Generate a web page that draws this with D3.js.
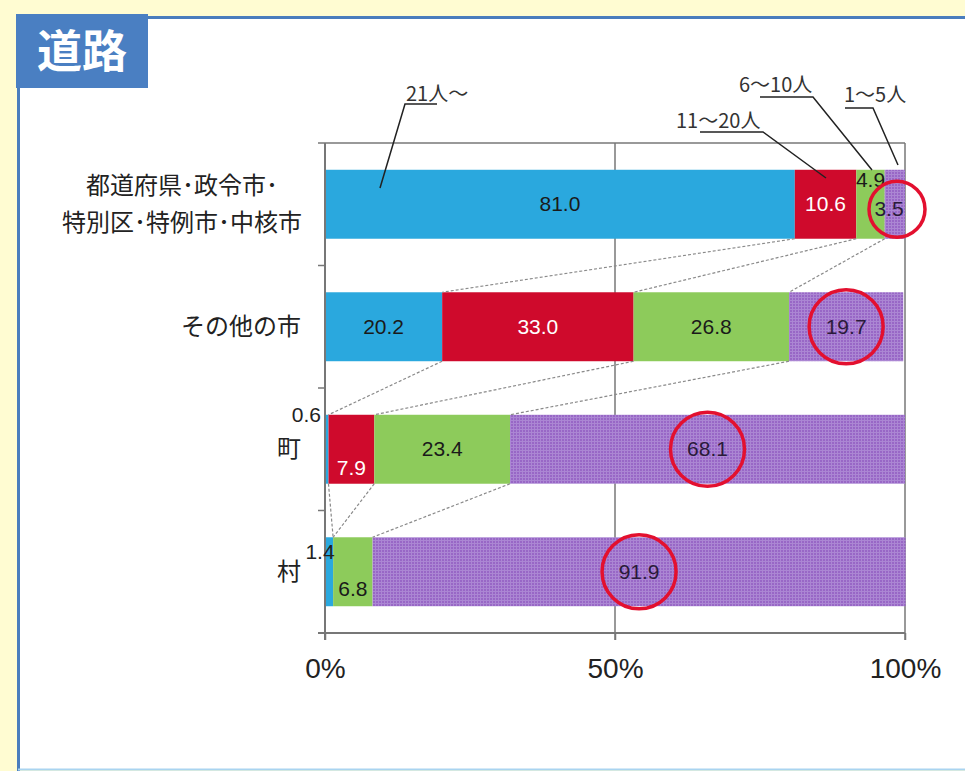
<!DOCTYPE html>
<html><head><meta charset="utf-8">
<script src="https://cdn.jsdelivr.net/npm/d3@7/dist/d3.min.js"></script>
<style>
html,body{margin:0;padding:0;background:#fffcd2;}
svg{display:block;}
</style></head>
<body>
<svg id="c" width="965" height="771"></svg>
<script>
const categories = ["都道府県･政令市･\n特別区･特例市･中核市", "その他の市", "町", "村"];
const seriesNames = ["21人～", "11～20人", "6～10人", "1～5人"];
const s21 = [81.0, 20.2, 0.6, 1.4];
const s11 = [10.6, 33.0, 7.9, 0.0];
const s6  = [4.9, 26.8, 23.4, 6.8];
const s1  = [3.5, 19.7, 68.1, 91.9];
const xTicks = [0, 50, 100];
const xTickLabels = ["0%", "50%", "100%"];

const colors = ["#2aa8de", "#cf0a2c", "#8dcb5b", "url(#purp)"];
const labelColors = ["#1a1a1a", "#ffffff", "#1a1a1a", "#2a1a3a"];
const JP = "'Noto Sans CJK JP','Noto Sans',sans-serif";
const NUM = "'Liberation Sans',Arial,sans-serif";

const svg = d3.select("#c");
const defs = svg.append("defs");
const pat = defs.append("pattern").attr("id","purp").attr("patternUnits","userSpaceOnUse")
  .attr("width",3).attr("height",3);
pat.append("rect").attr("width",3).attr("height",3).attr("fill","#9867c6");
pat.append("rect").attr("width",1).attr("height",3).attr("fill","#ab86d3");
pat.append("rect").attr("width",3).attr("height",1).attr("fill","#ab86d3");

// frame
svg.append("rect").attr("x",0).attr("y",0).attr("width",965).attr("height",771).attr("fill","#fffcd2");
svg.append("rect").attr("x",18).attr("y",16).attr("width",947).attr("height",753).attr("fill","#ffffff");
svg.append("line").attr("x1",148).attr("x2",965).attr("y1",17.5).attr("y2",17.5).attr("stroke","#4a7dbd").attr("stroke-width",3);
svg.append("line").attr("x1",18.5).attr("x2",18.5).attr("y1",80).attr("y2",771).attr("stroke","#4a7dbd").attr("stroke-width",3);
svg.append("line").attr("x1",18).attr("x2",965).attr("y1",769.5).attr("y2",769.5).attr("stroke","#a9d4f0").attr("stroke-width",2);
svg.append("rect").attr("x",16).attr("y",14).attr("width",132).attr("height",74).attr("fill","#4a7fc2");
svg.append("text").attr("x",82).attr("y",68).attr("text-anchor","middle")
  .attr("font-family",JP).attr("font-weight","bold").attr("font-size",45).attr("fill","#fff").text("道路");

const x = d3.scaleLinear().domain([0,100]).range([325,905]);
const y = d3.scaleBand().domain(categories).range([143,633]).paddingInner(0.437).paddingOuter(0.2185);

const rows = categories.map((c,i)=>{
  const vals = [s21[i], s11[i], s6[i], s1[i]];
  let acc = 0;
  return {cat:c, segs: vals.map((v,k)=>{const s={k, v, x0:acc, x1:acc+v}; acc+=v; return s;})};
});

const g = svg.append("g");
const axCol = "#777";
g.append("line").attr("x1",318).attr("x2",x(100)).attr("y1",143).attr("y2",143).attr("stroke",axCol).attr("stroke-width",1.5);
g.append("line").attr("x1",x(100)).attr("x2",x(100)).attr("y1",143).attr("y2",640).attr("stroke",axCol).attr("stroke-width",1.5);
g.append("line").attr("x1",x(50)).attr("x2",x(50)).attr("y1",143).attr("y2",640).attr("stroke",axCol).attr("stroke-width",1.5);

// bars
rows.forEach((r,i)=>{
  g.selectAll(null).data(r.segs.filter(s=>s.v>0)).enter().append("rect")
    .attr("x",s=>x(s.x0)).attr("width",s=>x(s.x1)-x(s.x0))
    .attr("y",y(r.cat)).attr("height",y.bandwidth())
    .attr("fill",s=>colors[s.k]);
});

// series connector lines
for(let i=0;i<rows.length-1;i++){
  const a=rows[i], b=rows[i+1];
  for(let k=0;k<3;k++){
    g.append("line")
      .attr("x1",x(a.segs[k].x1)).attr("y1",y(a.cat)+y.bandwidth())
      .attr("x2",x(b.segs[k].x1)).attr("y2",y(b.cat))
      .attr("stroke","#8a8a8a").attr("stroke-width",1.2).attr("stroke-dasharray","3,2");
  }
}

// axes
g.append("line").attr("x1",x(0)).attr("x2",x(0)).attr("y1",143).attr("y2",640).attr("stroke",axCol).attr("stroke-width",2);
g.selectAll(null).data(categories.slice(1)).enter().append("line")
  .attr("x1",318).attr("x2",x(0)).attr("y1",d=>y(d)-y.step()*y.paddingInner()/2).attr("y2",d=>y(d)-y.step()*y.paddingInner()/2)
  .attr("stroke",axCol).attr("stroke-width",1.5);
const xAxis = d3.axisBottom(x).tickValues(xTicks).tickSize(7).tickFormat((d,i)=>xTickLabels[i]);
const xa = g.append("g").attr("transform","translate(0,633)").call(xAxis);
xa.select(".domain").attr("d","M318,0H"+x(100)).attr("stroke",axCol).attr("stroke-width",2);
xa.selectAll(".tick line").attr("stroke",axCol).attr("stroke-width",1.5);
xa.selectAll(".tick text").attr("font-family",NUM).attr("font-size",28).attr("fill","#222").attr("dy",0).attr("y",45);

// category labels
categories.forEach(c=>{
  const lines=c.split("\n");
  const cy=y(c)+y.bandwidth()/2;
  const multi = lines.length>1;
  const t=g.append("text").attr("text-anchor",multi?"middle":"end").attr("font-family",JP).attr("font-size",24).attr("fill","#222");
  lines.forEach((l,j)=>{
    t.append("tspan").attr("x",multi?182:301).attr("y",cy+8+(j-(lines.length-1)/2)*37).text(l);
  });
});

// value labels
const fmt = d3.format(".1f");
rows.forEach((r,i)=>{
  const top=y(r.cat), bh=y.bandwidth(), cy=top+bh/2;
  r.segs.filter(s=>s.v>0).forEach(s=>{
    let lx=(x(s.x0)+x(s.x1))/2, ly=cy+7, anchor="middle", ccy=cy;
    if(i===0&&s.k===2){ly=top+17;}
    if(i===0&&s.k===3){lx=x(100)-16; ly=cy+12; ccy=cy+5;}
    if(i===2&&s.k===0){lx=x(0)-4; ly=top+7; anchor="end";}
    if(i===2&&s.k===1){ly=top+bh-9;}
    if(i===3&&s.k===0){lx=x(0)-5; ly=top+22; anchor="middle";}
    if(i===3&&s.k===2){ly=top+bh-10;}
    g.append("text").attr("x",lx).attr("y",ly).attr("text-anchor",anchor)
      .attr("font-family",NUM).attr("font-size",21)
      .attr("fill",(i===2&&s.k===0)||(i===3&&s.k===0)?"#222":labelColors[s.k]).text(fmt(s.v));
    if(s.k===3){
      const r0 = i===0?28:37;
      const ccx = i===0? x(100)-8 : lx;
      g.append("circle").attr("cx",ccx).attr("cy",ccy).attr("r",r0)
        .attr("fill","none").attr("stroke","#e3102f").attr("stroke-width",3.5);
    }
  });
});

// series name leaders
const ann = [
  {tx:406, ty:101, u0:405, u1:437, uy:104, px:380, py:188},
  {tx:676, ty:128, u0:700, u1:763, uy:132, px:826, py:178},
  {tx:739, ty:92,  u0:760, u1:813, uy:97,  px:872, py:170},
  {tx:844, ty:102, u0:845, u1:873, uy:108, px:898, py:165}
];
seriesNames.forEach((n,k)=>{
  const a=ann[k];
  g.append("text").attr("x",a.tx).attr("y",a.ty).attr("font-family",JP).attr("font-size",20).attr("fill","#333").text(n);
  const end = k===0? a.u0 : a.u1;
  g.append("path").attr("d",`M${k===0?a.u1:a.u0},${a.uy}H${end}L${a.px},${a.py}`)
    .attr("fill","none").attr("stroke","#222").attr("stroke-width",1.5);
});
</script>
</body></html>
